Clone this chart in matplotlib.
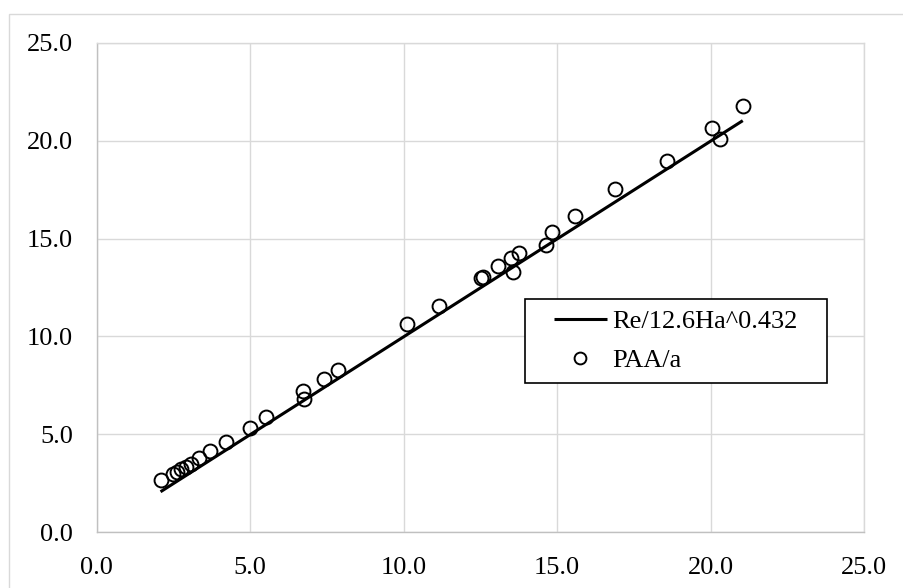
import matplotlib
matplotlib.use("Agg")
import matplotlib.pyplot as plt
from matplotlib.patches import Rectangle

# ---- data ----
x_paa = [2.08, 2.50, 2.62, 2.76, 2.92, 3.06, 3.34, 3.69, 4.20, 5.00, 5.52,
         6.73, 6.77, 7.41, 7.85, 10.10, 11.15, 12.51, 12.60, 13.09, 13.50,
         13.55, 13.77, 14.64, 14.84, 15.58, 16.89, 18.57, 20.04, 20.31, 21.05]
y_paa = [2.67, 2.96, 3.10, 3.22, 3.35, 3.48, 3.78, 4.15, 4.60, 5.34, 5.87,
         7.23, 6.82, 7.83, 8.29, 10.63, 11.56, 12.97, 13.02, 13.62, 14.02,
         13.31, 14.28, 14.67, 15.34, 16.15, 17.52, 18.96, 20.66, 20.09, 21.79]
line_x = [2.08, 21.05]
line_y = [2.07, 21.02]
ticks = [0, 5, 10, 15, 20, 25]
tick_labels = ["0.0", "5.0", "10.0", "15.0", "20.0", "25.0"]
line_label = "Re/12.6Ha^0.432"
point_label = "PAA/a"

plt.rcParams['font.family'] = ['Liberation Serif', 'DejaVu Serif']
FS = 19

W, H = 904, 588
fig = plt.figure(figsize=(W / 100, H / 100), dpi=100)
ax = fig.add_axes([96.7 / W, 1 - 532.3 / H, (864 - 96.7) / W, (532.3 - 42.7) / H])

# outer chart frame (left and top visible)
fig.add_artist(Rectangle((9 / W, -0.05), 1.2, 1 - 14 / H + 0.05,
                         transform=fig.transFigure, facecolor='none',
                         edgecolor='#d9d9d9', lw=1.0, zorder=0))

ln, = ax.plot(line_x, line_y, color='black', lw=2.2, zorder=3, label=line_label,
              solid_capstyle='butt')
pts, = ax.plot(x_paa, y_paa, linestyle='none', marker='o', markersize=10,
               markerfacecolor='none', markeredgecolor='black',
               markeredgewidth=1.4, zorder=4, label=point_label)

ax.set_xlim(0, 25)
ax.set_ylim(0, 25)
ax.set_xticks(ticks)
ax.set_yticks(ticks)
ax.set_xticklabels(tick_labels, fontsize=FS)
ax.set_yticklabels(tick_labels, fontsize=FS)
ax.tick_params(axis='both', length=0)
ax.tick_params(axis='x', pad=18)
ax.tick_params(axis='y', pad=17)
ax.grid(True, color='#d9d9d9', lw=1.0, zorder=0)
ax.set_axisbelow(True)
for s in ['top', 'right']:
    ax.spines[s].set_color('#d9d9d9')
    ax.spines[s].set_linewidth(1.0)
for s in ['left', 'bottom']:
    ax.spines[s].set_color('#c0c0c0')
    ax.spines[s].set_linewidth(1.0)

# legend box
box = Rectangle((525 / W, 1 - 383.3 / H), (827 - 525) / W, (383.3 - 299.3) / H,
                transform=fig.transFigure, facecolor='white', edgecolor='black',
                lw=1.2, zorder=8)
fig.add_artist(box)
leg = fig.legend(handles=[ln, pts], loc='center left',
                 bbox_to_anchor=(554 / W, 1 - 341 / H),
                 bbox_transform=fig.transFigure, frameon=False, fontsize=FS,
                 borderpad=0, borderaxespad=0, handlelength=2.0,
                 handletextpad=0.2, labelspacing=0.6, markerscale=0.85)
leg.set_zorder(9)

fig.savefig("out.png", dpi=100, facecolor='white')
